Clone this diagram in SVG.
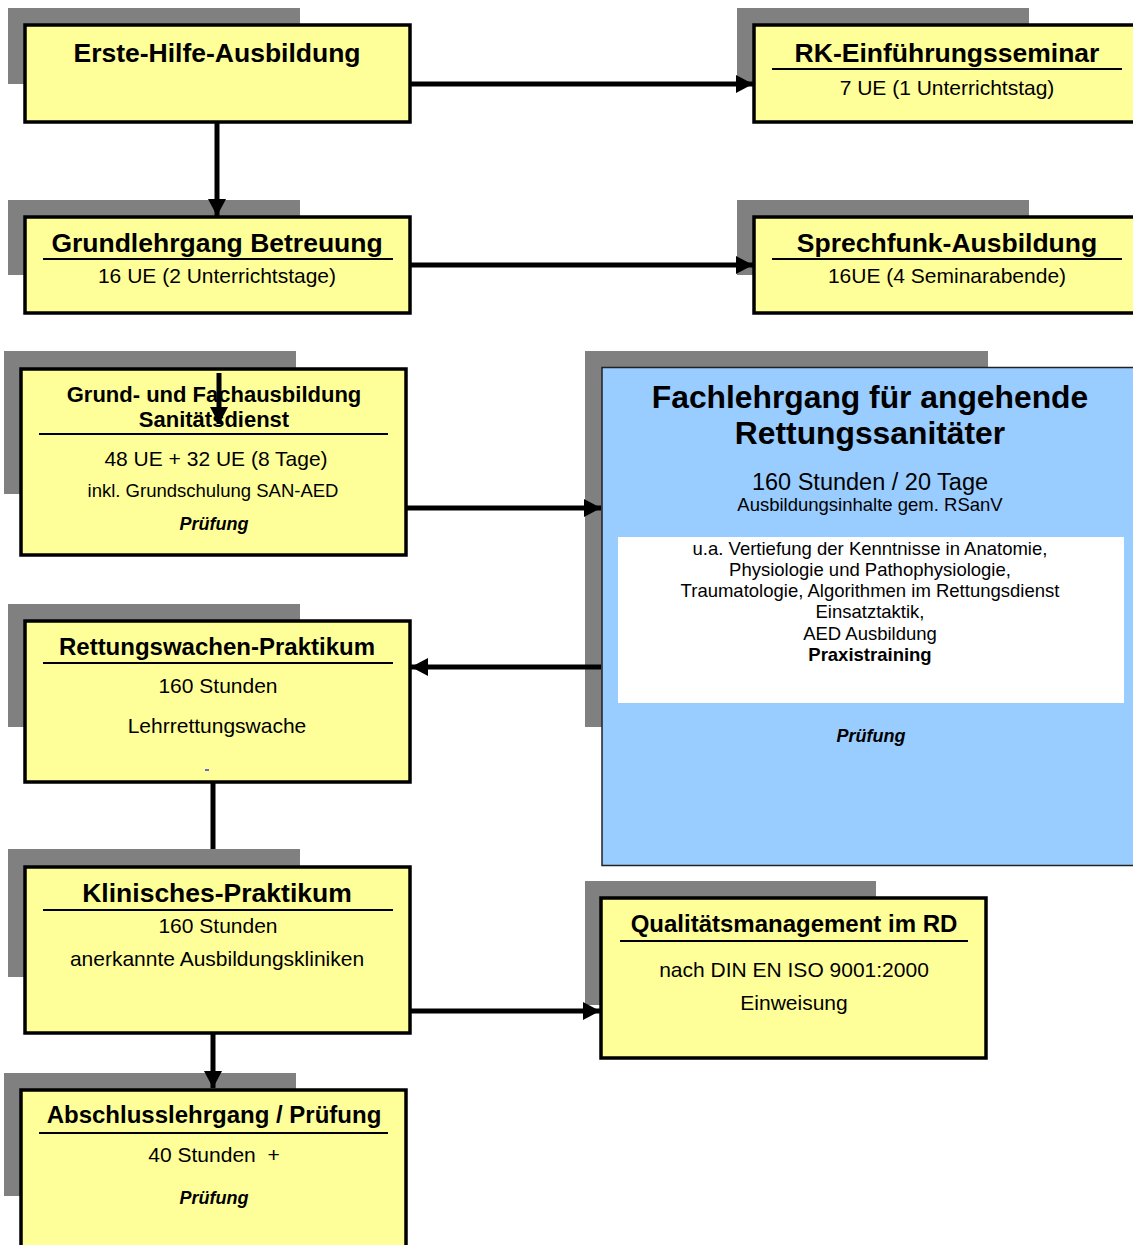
<svg xmlns="http://www.w3.org/2000/svg" width="1133" height="1245" viewBox="0 0 1133 1245">
<style>
text{font-family:"Liberation Sans",Arial,sans-serif;fill:#000;text-anchor:middle}
.sh{fill:#808080}
.bx{fill:#FFFF99;stroke:#000;stroke-width:3.5}
.blue{fill:#99CCFF;stroke:#222;stroke-width:1.5}
.ul{stroke:#000;stroke-width:2}
.t{font-weight:bold}
.bi{font-weight:bold;font-style:italic}
.c{fill:none;stroke:#000;stroke-width:5}
</style>
<defs>
<marker id="ah" markerUnits="userSpaceOnUse" markerWidth="18" markerHeight="18" viewBox="0 0 18 18" refX="17" refY="9" orient="auto">
<path d="M0,0 L17,9 L0,18 Z" fill="#000"/>
</marker>
</defs>
<rect width="1133" height="1245" fill="#fff"/>

<g id="erste-hilfe">
<rect class="sh" x="8" y="8" width="292" height="76"/>
<rect class="bx" x="25" y="25" width="385" height="97"/>
<text class="t" x="217" y="62" font-size="26.5">Erste-Hilfe-Ausbildung</text>
</g>

<g id="rk-seminar">
<rect class="sh" x="737" y="8" width="292" height="76"/>
<rect class="bx" x="754" y="25" width="386" height="97"/>
<text class="t" x="947" y="62" font-size="26.5">RK-Einführungsseminar</text>
<line class="ul" x1="772" y1="69" x2="1122" y2="69"/>
<text x="947" y="95" font-size="21">7 UE (1 Unterrichtstag)</text>
</g>

<g id="grundlehrgang">
<rect class="sh" x="8" y="200" width="292" height="75"/>
<rect class="bx" x="25" y="217" width="385" height="96"/>
<text class="t" x="217" y="252" font-size="26.5">Grundlehrgang Betreuung</text>
<line class="ul" x1="43" y1="259" x2="393" y2="259"/>
<text x="217" y="283" font-size="21">16 UE (2 Unterrichtstage)</text>
</g>

<g id="sprechfunk">
<rect class="sh" x="737" y="200" width="292" height="75"/>
<rect class="bx" x="754" y="217" width="386" height="96"/>
<text class="t" x="947" y="252" font-size="26.5">Sprechfunk-Ausbildung</text>
<line class="ul" x1="772" y1="259" x2="1122" y2="259"/>
<text x="947" y="283" font-size="21">16UE (4 Seminarabende)</text>
</g>

<g id="grund-fach">
<rect class="sh" x="4" y="351" width="292" height="143"/>
<rect class="bx" x="21" y="369" width="385" height="186"/>
<text class="t" x="214" y="402" font-size="22">Grund- und Fachausbildung</text>
<text class="t" x="214" y="427" font-size="22">Sanitätsdienst</text>
<line class="ul" x1="39" y1="434" x2="388" y2="434"/>
<text x="216" y="466" font-size="21">48 UE + 32 UE (8 Tage)</text>
<text x="213" y="497" font-size="18.5">inkl. Grundschulung SAN-AED</text>
<text class="bi" x="214" y="530" font-size="18">Prüfung</text>
</g>

<g id="fachlehrgang">
<rect class="sh" x="585" y="351" width="403" height="376"/>
<rect class="blue" x="602" y="367.5" width="540" height="498"/>
<rect x="618" y="537" width="506" height="166" fill="#fff"/>
<text class="t" x="870" y="408" font-size="31.8">Fachlehrgang für angehende</text>
<text class="t" x="870" y="444" font-size="31.8">Rettungssanitäter</text>
<text x="870" y="490" font-size="23.5">160 Stunden / 20 Tage</text>
<text x="870" y="511" font-size="18.5">Ausbildungsinhalte gem. RSanV</text>
<text x="870" y="555" font-size="18.5">u.a. Vertiefung der Kenntnisse in Anatomie,</text>
<text x="870" y="576" font-size="18.5">Physiologie und Pathophysiologie,</text>
<text x="870" y="597" font-size="18.5">Traumatologie, Algorithmen im Rettungsdienst</text>
<text x="870" y="618" font-size="18.5">Einsatztaktik,</text>
<text x="870" y="640" font-size="18.5">AED Ausbildung</text>
<text class="t" x="870" y="661" font-size="18.5">Praxistraining</text>
<text class="bi" x="871" y="742" font-size="18">Prüfung</text>
</g>

<g id="rettungswache">
<rect class="sh" x="8" y="604" width="292" height="123"/>
<rect class="bx" x="25" y="621" width="385" height="161"/>
<text class="t" x="217" y="655" font-size="24">Rettungswachen-Praktikum</text>
<line class="ul" x1="43" y1="663" x2="393" y2="663"/>
<text x="218" y="693" font-size="21">160 Stunden</text>
<text x="217" y="733" font-size="21">Lehrrettungswache</text>
<line x1="205" y1="770" x2="209" y2="770" stroke="#0000ff" stroke-width="1.2"/>
</g>

<g id="klinisch">
<rect class="sh" x="8" y="849" width="292" height="128"/>
<rect class="bx" x="25" y="867" width="385" height="166"/>
<text class="t" x="217" y="902" font-size="26.5">Klinisches-Praktikum</text>
<line class="ul" x1="43" y1="910" x2="393" y2="910"/>
<text x="218" y="933" font-size="21">160 Stunden</text>
<text x="217" y="966" font-size="21">anerkannte Ausbildungskliniken</text>
</g>

<g id="qualitaet">
<rect class="sh" x="585" y="881" width="291" height="124"/>
<rect class="bx" x="601" y="898" width="385" height="160"/>
<text class="t" x="794" y="932" font-size="24">Qualitätsmanagement im RD</text>
<line class="ul" x1="620" y1="941" x2="968" y2="941"/>
<text x="794" y="977" font-size="21">nach DIN EN ISO 9001:2000</text>
<text x="794" y="1010" font-size="21">Einweisung</text>
</g>

<g id="abschluss">
<rect class="sh" x="4" y="1073" width="292" height="123"/>
<rect class="bx" x="21" y="1090" width="385" height="170"/>
<text class="t" x="214" y="1123" font-size="24">Abschlusslehrgang / Prüfung</text>
<line class="ul" x1="39" y1="1133" x2="388" y2="1133"/>
<text x="214" y="1162" font-size="21" xml:space="preserve">40 Stunden  +</text>
<text class="bi" x="214" y="1204" font-size="18">Prüfung</text>
</g>

<g id="connectors">
<line class="c" x1="217" y1="123" x2="217" y2="216" marker-end="url(#ah)"/>
<line class="c" x1="411" y1="84" x2="753" y2="84" marker-end="url(#ah)"/>
<line class="c" x1="411" y1="265" x2="753" y2="265" marker-end="url(#ah)"/>
<line class="c" x1="219" y1="373" x2="219" y2="424" marker-end="url(#ah)"/>
<line class="c" x1="407" y1="508" x2="601" y2="508" marker-end="url(#ah)"/>
<line class="c" x1="601" y1="667" x2="411" y2="667" marker-end="url(#ah)"/>
<line class="c" x1="213" y1="783" x2="213" y2="849"/>
<line class="c" x1="411" y1="1011" x2="600" y2="1011" marker-end="url(#ah)"/>
<line class="c" x1="213" y1="1034" x2="213" y2="1088" marker-end="url(#ah)"/>
</g>
</svg>
